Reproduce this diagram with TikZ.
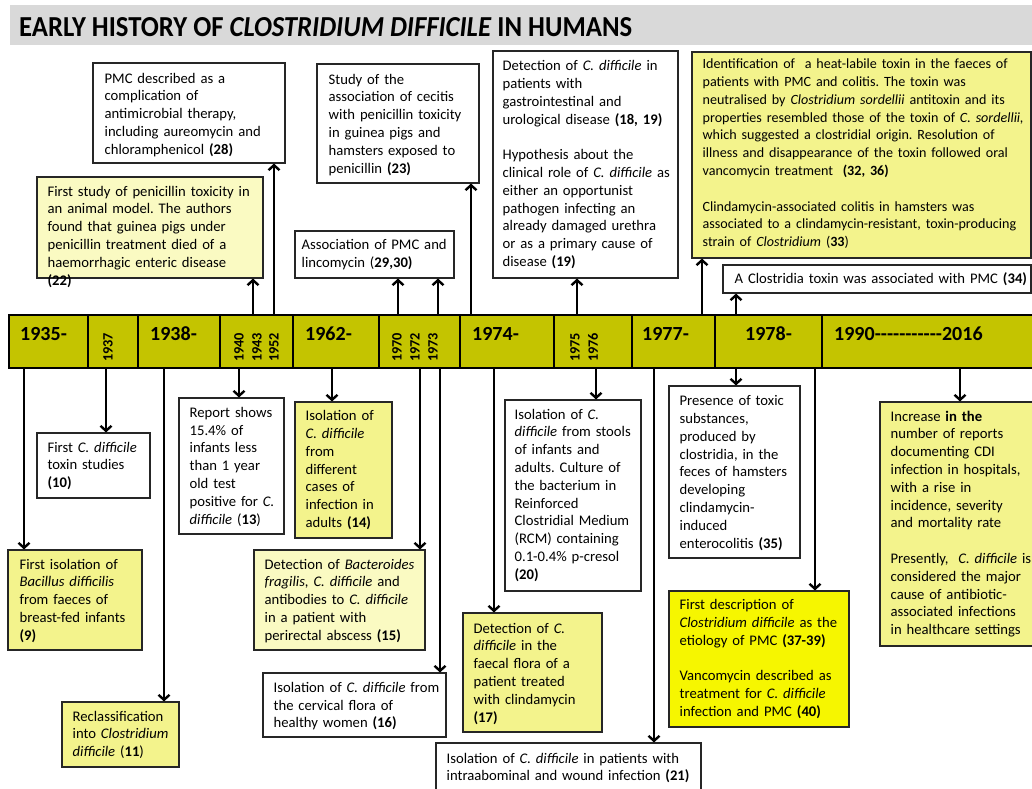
\documentclass[tikz,border=0pt]{standalone}
\usepackage{fontspec}
\setmainfont{Carlito}
\usetikzlibrary{arrows.meta,fit,calc}
\definecolor{barc}{RGB}{196,196,0}
\definecolor{yel}{RGB}{243,243,140}
\definecolor{lyel}{RGB}{250,250,194}
\definecolor{byel}{RGB}{246,246,0}
\definecolor{titlebg}{RGB}{217,217,217}
\frenchspacing
\tikzset{
  box/.style={draw=black!85, line width=1.1pt, inner sep=0pt},
  txt/.style={inner sep=0pt, anchor=north west, align=left, font=\fontsize{14.67}{17.8}\selectfont\frenchspacing},
  arr/.style={line width=2.4pt, -{Straight Barb[length=5pt,width=11pt]}},
  yr/.style={font=\fontsize{20}{24}\selectfont\bfseries, inner sep=0pt, anchor=base west},
  yv/.style={font=\fontsize{14.3}{17}\selectfont\bfseries, inner sep=0pt, rotate=90, anchor=west},
  divider/.style={line width=2.6pt},
}
% name, x1, y1, x2, y2, fill, text x-offset, first-baseline offset, text
\newcommand\tbox[9]{%
  \node[box, fill=#6, fit={(#2,#3) (#4,#5)}] (#1) {};
  \pgfmathsetmacro\tbw{#4-#2-#7+20}%
  \pgfmathsetmacro\tby{#8-12.46}%
  \node[txt, text width=\tbw pt] (#1-t) at ([xshift=#7pt, yshift=-\tby pt]#1.north west) {\strut #9};
}
\begin{document}
\begin{tikzpicture}[x=1pt, y=-1pt]
\useasboundingbox (0,0) rectangle (1032,788);
% title
\node[fill=titlebg, inner sep=0pt, fit={(10,5) (1032,45)}] (titlebar) {};
\node[anchor=base west, inner sep=0pt] (title) at (19,36) {\resizebox{613pt}{19pt}{\bfseries EARLY HISTORY OF \textit{CLOSTRIDIUM DIFFICILE} IN HUMANS}};

% timeline bar
\node[fill=barc, draw=black, line width=2.6pt, inner sep=0pt, fit={(9,315) (1036,368)}] (bar) {};
\foreach \x in {88,138,220,293,379,460,554,632,715,822}
  \draw[divider] (\x,315) -- (\x,368);
\node[yr] (y1935) at (20,340) {1935-};
\node[yr] (y1938) at (150,340) {1938-};
\node[yr] (y1962) at (305,340) {1962-};
\node[yr] (y1974) at (472,340) {1974-};
\node[yr] (y1977) at (642,340) {1977-};
\node[yr] (y1978) at (745,340) {1978-};
\node[yr] (y1990) at (834,340) {1990{-}{-}{-}{-}{-}{-}{-}{-}{-}{-}{-}2016};
\node[yv] (y1937) at (108,362) {1937};
\node[yv] (y1940) at (239,362) {1940};
\node[yv] (y1943) at (257,362) {1943};
\node[yv] (y1952) at (274,362) {1952};
\node[yv] (y1970) at (397,362) {1970};
\node[yv] (y1972) at (415,362) {1972};
\node[yv] (y1973) at (433,362) {1973};
\node[yv] (y1975) at (575,362) {1975};
\node[yv] (y1976) at (593,362) {1976};

% upper boxes
\tbox{pmc}{93}{63}{285}{163}{white}{12}{20.5}{PMC described as a\\ complication of\\ antimicrobial therapy,\\ including aureomycin and\\ chloramphenicol \textbf{(28)}}
\tbox{first}{37}{177}{263}{278}{lyel}{11}{19.5}{First study of penicillin toxicity in\\ an animal model. The authors\\ found that guinea pigs under\\ penicillin treatment died of a\\ haemorrhagic enteric disease\\ \textbf{(22)}}
\tbox{study}{317}{64}{479}{183}{white}{12}{20.5}{Study of the\\ association of cecitis\\ with penicillin toxicity\\ in guinea pigs and\\ hamsters exposed to\\ penicillin \textbf{(23)}}
\tbox{assoc}{295}{231}{454}{278}{white}{7}{19}{Association of PMC and\\ lincomycin (\textbf{29,30)}}
\tbox{detect}{493}{51}{678}{278}{white}{10}{20}{Detection of \textit{C. difficile} in\\ patients with\\ gastrointestinal and\\ urological disease \textbf{(18, 19)}\\[17.8pt] Hypothesis about the\\ clinical role of \textit{C. difficile} as\\ either an opportunist\\ pathogen infecting an\\ already damaged urethra\\ or as a primary cause of\\ disease \textbf{(19)}}
\tbox{ident}{692}{52}{1031}{258}{yel}{11}{17}{\fontsize{14.1}{17.8}\selectfont Identification of~ a heat-labile toxin in the faeces of\\ patients with PMC and colitis. The toxin was\\ neutralised by \textit{Clostridium sordellii} antitoxin and its\\ properties resembled those of the toxin of \textit{C. sordellii,}\\ which suggested a clostridial origin. Resolution of\\ illness and disappearance of the toxin followed oral\\ vancomycin treatment~ \textbf{(32, 36)}\\[17.8pt] Clindamycin-associated colitis in hamsters was\\ associated to a clindamycin-resistant, toxin-producing\\ strain of \textit{Clostridium} (\textbf{33})}
\tbox{ctox}{723}{265}{1031}{293}{white}{12}{19}{A Clostridia toxin was associated with PMC \textbf{(34)}}

% lower boxes
\tbox{tox10}{37}{433}{150}{498}{white}{11}{19.5}{First \textit{C. difficile}\\ toxin studies\\ \textbf{(10)}}
\tbox{iso9}{8}{550}{142}{650}{yel}{12}{19.5}{First isolation of\\ \textit{Bacillus difficilis}\\ from faeces of\\ breast-fed infants\\ \textbf{(9)}}
\tbox{recl}{62}{702}{179}{767}{yel}{11}{19.5}{Reclassification\\ into \textit{Clostridium}\\ \textit{difficile} (\textbf{11})}
\tbox{report}{179}{398}{284}{534}{white}{11}{19.6}{Report shows\\ 15.4\% of\\ infants less\\ than 1 year\\ old test\\ positive for \textit{C.}\\ \textit{difficile} (\textbf{13})}
\tbox{iso14}{295}{402}{392}{538}{yel}{11}{19}{Isolation of\\ \textit{C. difficile}\\ from\\ different\\ cases of\\ infection in\\ adults \textbf{(14)}}
\tbox{bact}{254}{550}{425}{650}{lyel}{11}{19.5}{Detection of \textit{Bacteroides}\\ \textit{fragilis, C. difficile} and\\ antibodies to \textit{C. difficile}\\ in a patient with\\ perirectal abscess \textbf{(15)}}
\tbox{cerv}{263}{673}{446}{737}{white}{11}{19.7}{Isolation of \textit{C. difficile} from\\ the cervical flora of\\ healthy women \textbf{(16)}}
\tbox{stool}{505}{400}{641}{591}{white}{10}{19.5}{Isolation of \textit{C.}\\ \textit{difficile} from stools\\ of infants and\\ adults. Culture of\\ the bacterium in\\ Reinforced\\ Clostridial Medium\\ (RCM) containing\\ 0.1-0.4\% p-cresol\\ \textbf{(20)}}
\tbox{faecal}{463}{613}{602}{732}{yel}{11}{20.5}{Detection of \textit{C.}\\ \textit{difficile} in the\\ faecal flora of a\\ patient treated\\ with clindamycin\\ \textbf{(17)}}
\tbox{intra}{436}{743}{701}{795}{white}{11}{20.5}{Isolation of \textit{C. difficile} in patients with\\ intraabominal and wound infection \textbf{(21)}}
\tbox{tox35}{669}{386}{800}{558}{white}{11}{20}{Presence of toxic\\ substances,\\ produced by\\ clostridia, in the\\ feces of hamsters\\ developing\\ clindamycin-\\ induced\\ enterocolitis \textbf{(35)}}
\tbox{fdesc}{669}{591}{849}{727}{byel}{11}{19}{First description of\\ \textit{Clostridium difficile} as the\\ etiology of PMC \textbf{(37-39)}\\[17.8pt] Vancomycin described as\\ treatment for \textit{C. difficile}\\ infection and PMC \textbf{(40)}}
\tbox{incr}{880}{402}{1036}{646}{yel}{11}{19.5}{Increase \textbf{in the}\\ number of reports\\ documenting CDI\\ infection in hospitals,\\ with a rise in\\ incidence, severity\\ and mortality rate\\[17.8pt] Presently,~ \textit{C. difficile} is\\ considered the major\\ cause of antibiotic-\\ associated infections\\ in healthcare settings}

% connector origins on the bar
\foreach \n/\x in {u1/253,u2/274,u3/398,u4/438,u5/471,u6/577,u7/702,u8/736}
  \coordinate (\n) at (\x,315);
\foreach \n/\x in {d1/24,d2/106,d3/164,d4/239,d5/332,d6/420,d7/440,d8/494,d9/596,d10/654,d11/736,d12/815,d13/960}
  \coordinate (\n) at (\x,368);

% upward connectors
\draw[arr] (u1) -- (u1 |- first.south);
\draw[arr] (u2) -- (u2 |- pmc.south);
\draw[arr] (u3) -- (u3 |- assoc.south);
\draw[arr] (u4) -- (u4 |- assoc.south);
\draw[arr] (u5) -- (u5 |- study.south);
\draw[arr] (u6) -- (u6 |- detect.south);
\draw[arr] (u7) -- (u7 |- ident.south);
\draw[arr] (u8) -- (u8 |- ctox.south);
% downward connectors
\draw[arr] (d1) -- (d1 |- iso9.north);
\draw[arr] (d2) -- (d2 |- tox10.north);
\draw[arr] (d3) -- (d3 |- recl.north);
\draw[arr] (d4) -- (d4 |- report.north);
\draw[arr] (d5) -- (d5 |- iso14.north);
\draw[arr] (d6) -- (d6 |- bact.north);
\draw[arr] (d7) -- (d7 |- cerv.north);
\draw[arr] (d8) -- (d8 |- faecal.north);
\draw[arr] (d9) -- (d9 |- stool.north);
\draw[arr] (d10) -- (d10 |- intra.north);
\draw[arr] (d11) -- (d11 |- tox35.north);
\draw[arr] (d12) -- (d12 |- fdesc.north);
\draw[arr] (d13) -- (d13 |- incr.north);
\end{tikzpicture}
\end{document}
